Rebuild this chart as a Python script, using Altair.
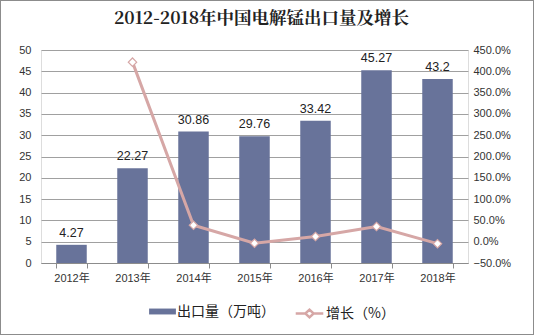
import altair as alt
import pandas as pd

years = ["2012年", "2013年", "2014年", "2015年", "2016年", "2017年", "2018年"]
export = [4.27, 22.27, 30.86, 29.76, 33.42, 45.27, 43.2]
growth = [None, 4.215, 0.386, -0.036, 0.123, 0.355, -0.046]
bar_name = "出口量（万吨）"
line_name = "增长（%）"
left_ticks = [0, 5, 10, 15, 20, 25, 30, 35, 40, 45, 50]
right_ticks = [-0.5, 0, 0.5, 1.0, 1.5, 2.0, 2.5, 3.0, 3.5, 4.0, 4.5]

df = pd.DataFrame({"year": years, "export": export, "growth": growth,
                   "s1": bar_name, "s2": line_name})

BAR = "#68739A"
PINK = "#D6A7A6"
LAT = "Liberation Sans, 'Noto Sans CJK SC'"
CJK = "'Noto Sans CJK SC'"

x = alt.X("year:N", sort=years,
          scale=alt.Scale(paddingInner=0.5, paddingOuter=0.25),
          axis=alt.Axis(title=None, labelAngle=0, domainColor="#8C8C8C",
                        tickColor="#8C8C8C", tickBand="extent", tickSize=5,
                        labelFont=LAT, labelFontSize=11, labelColor="#333333",
                        labelPadding=4))

base = alt.Chart(df).encode(x=x)

yl = alt.Y("export:Q", scale=alt.Scale(domain=[0, 50], nice=False),
           axis=alt.Axis(title=None, values=left_ticks, grid=True,
                         gridColor="#A0A0A0", domain=False, ticks=False,
                         labelOverlap=False,
                         labelFont=LAT, labelFontSize=11, labelColor="#333333",
                         labelPadding=10))

bars = base.mark_bar(color=BAR).encode(
    y=yl,
    color=alt.Color("s1:N", scale=alt.Scale(domain=[bar_name], range=[BAR]),
                    legend=alt.Legend(title=None, orient="none", legendX=108,
                                      legendY=248,
                                      symbolType="M-1,-0.22H1V0.22H-1Z",
                                      symbolSize=720, symbolStrokeWidth=0,
                                      labelFont=CJK, labelFontSize=14,
                                      labelColor="#222222", labelOffset=1)),
)

labels = base.mark_text(baseline="bottom", dy=-5, font=LAT, fontSize=12.5,
                        color="#222222").encode(
    y=yl,
    text=alt.Text("export:Q"),
)

left = alt.layer(bars, labels)

yr = alt.Y("growth:Q", scale=alt.Scale(domain=[-0.5, 4.5], nice=False),
           axis=alt.Axis(title=None, orient="right", values=right_ticks,
                         format=".1%", grid=False, domain=False, ticks=False,
                         labelOverlap=False,
                         labelFont=LAT, labelFontSize=11, labelColor="#333333",
                         labelPadding=5))

line = base.transform_filter("datum.growth != null").mark_line(strokeWidth=3).encode(
    y=yr,
    stroke=alt.Stroke("s2:N", scale=alt.Scale(domain=[line_name], range=[PINK]),
                      legend=alt.Legend(title=None, orient="none", legendX=253,
                                        legendY=248,
                                        symbolType="M-1,0H-0.3M0.3,0H1M-0.3,0L0,-0.28L0.3,0L0,0.28Z",
                                        symbolSize=760, symbolStrokeWidth=2.5,
                                        symbolFillColor="white",
                                        labelFont=CJK, labelFontSize=14,
                                        labelColor="#222222", labelOffset=1)),
)
pts = base.transform_filter("datum.growth != null").mark_point(
    shape="diamond", filled=True, fill="white", stroke=PINK, strokeWidth=1.2,
    size=70, opacity=1).encode(y=yr)

right = alt.layer(line, pts)

border = alt.Chart(df).mark_rect(fill=None, stroke="#8C8C8C", strokeWidth=1).encode(
    x=alt.value(-40.5), x2=alt.value(492.5), y=alt.value(-49.5), y2=alt.value(284.5))

chart = alt.layer(left, right, border).resolve_scale(
    y="independent", color="independent", stroke="independent"
).properties(
    width=427, height=213,
    title=alt.TitleParams("2012-2018年中国电解锰出口量及增长",
                          font="'Noto Serif CJK SC', 'Noto Sans CJK SC'",
                          fontSize=17.5, fontWeight="bold", color="#222222",
                          anchor="middle", frame="group", dx=7, offset=-27),
    padding={"left": 41, "top": 50, "right": 66, "bottom": 72},
    autosize=alt.AutoSizeParams(type="none"),
).configure_view(stroke=None).configure(background="white")

chart.save("out.html", embed_options={"renderer": "svg", "actions": False})
